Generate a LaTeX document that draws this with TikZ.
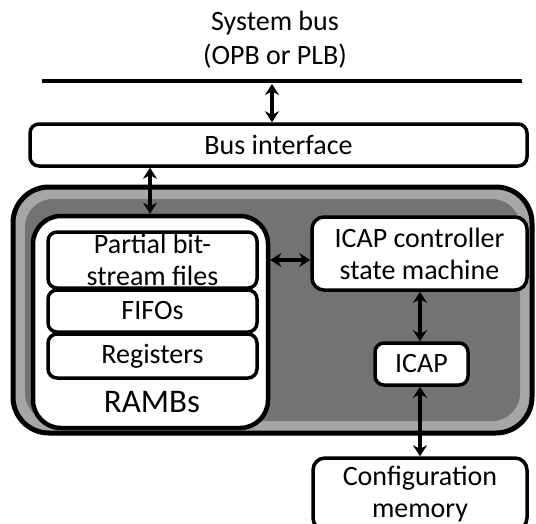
\documentclass[tikz,border=0pt]{standalone}
\usepackage{fontspec}
\setmainfont{Carlito}
\usetikzlibrary{arrows.meta}
\tikzset{
  txt/.style={font=\fontsize{28}{32}\selectfont, align=center, text=black},
  box/.style={draw=black, line width=3.5pt, rounded corners=9pt, fill=white,
              inner sep=0pt, txt},
  dblarrow/.style={line width=3.5pt, {Stealth[length=11pt,width=14pt]}-{Stealth[length=11pt,width=14pt]}},
}
\begin{document}
\begin{tikzpicture}[x=1pt,y=-1pt]
\useasboundingbox (0,0) rectangle (536,523);
\clip (0,0) rectangle (536,523);

% title and system bus
\node[txt] (title) at (275,40) {System bus\\[2pt](OPB or PLB)};
\coordinate (busL) at (42,81);
\coordinate (busR) at (522,81);
\draw[line width=4.5pt] (busL) -- (busR);

\node[box, minimum width=497pt, minimum height=42pt] (bi) at (278.5,145) {Bus interface};

% reconfiguration controller block
\node[draw=black, line width=5pt, rounded corners=36pt, fill=black!35,
      minimum width=519pt, minimum height=246pt, inner sep=0pt] (outer) at (272.5,310) {};
\fill[black!55, rounded corners=28pt] (25,199) rectangle (520,421);

\node[box, line width=4.5pt, rounded corners=28pt, minimum width=235pt, minimum height=212pt] (ramb) at (150.5,322) {};
\node[box, minimum width=209pt, minimum height=56pt] (pbs) at (152.5,260) {Partial bit-\\stream files};
\node[box, minimum width=209pt, minimum height=42pt] (fifo) at (152.5,311) {FIFOs};
\node[box, minimum width=209pt, minimum height=44pt] (reg) at (152.5,356) {Registers};
\node[txt, font=\fontsize{33}{36}\selectfont] (rambl) at (152,402) {RAMBs};

\node[box, rounded corners=12pt, minimum width=215pt, minimum height=73pt] (ctrl) at (419.5,253.5) {ICAP controller\\state machine};
\node[box, minimum width=93pt, minimum height=42pt] (icap) at (421.5,364) {ICAP};
\node[box, rounded corners=12pt, minimum width=214pt, minimum height=72pt] (cfg) at (420,494) {Configuration\\memory};

% connectors
\coordinate (busTap) at (272,84);
\draw[dblarrow] (busTap) -- (busTap |- bi.north);
\coordinate (biTap) at (150,0);
\draw[dblarrow] (biTap |- bi.south) -- (biTap |- ramb.north);
\coordinate (rcTap) at (0,260);
\draw[dblarrow] (rcTap -| ramb.east) -- (rcTap -| ctrl.west);
\coordinate (icTap) at (420,0);
\draw[dblarrow] (icTap |- ctrl.south) -- (icTap |- icap.north);
\draw[dblarrow] (icTap |- icap.south) -- (icTap |- cfg.north);
\end{tikzpicture}
\end{document}
